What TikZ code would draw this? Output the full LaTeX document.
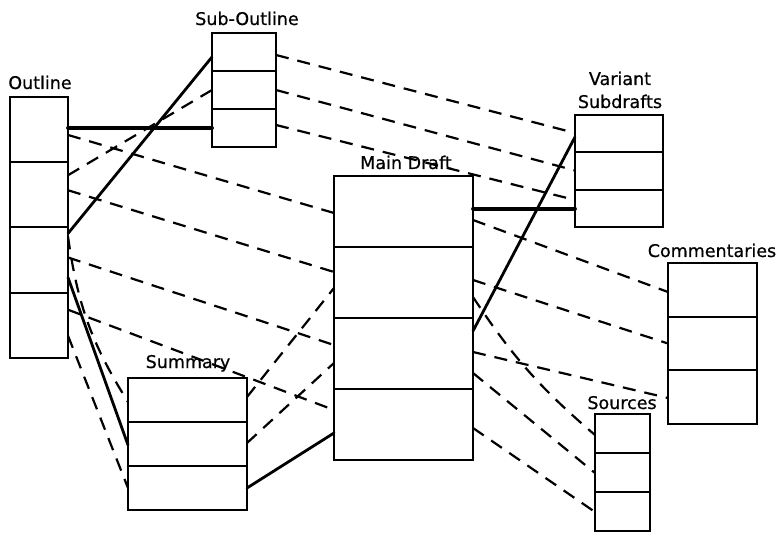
\documentclass[tikz,border=0pt]{standalone}
\usepackage{fontspec}
\newfontfamily\lblfont[FakeBold=0.6]{DejaVu Sans}
\usetikzlibrary{positioning,calc}
\tikzset{
  cell/.style    ={draw=black,line width=2pt,inner sep=0pt,outer sep=0pt},
  outcell/.style ={cell,minimum width=58pt,minimum height=65.25pt},
  subcell/.style ={cell,minimum width=64pt,minimum height=38pt},
  maincell/.style={cell,minimum width=139pt,minimum height=71pt},
  varcell/.style ={cell,minimum width=88pt,minimum height=37.5pt},
  comcell/.style ={cell,minimum width=89pt,minimum height=53.5pt},
  srccell/.style ={cell,minimum width=55pt,minimum height=39pt},
  sumcell/.style ={cell,minimum width=119pt,minimum height=44pt},
  lbl/.style     ={font=\lblfont\fontsize{17.5}{23}\selectfont,inner sep=0pt,
                   anchor=base,align=center},
  tie/.style     ={draw=black,line width=2.8pt,line cap=round},
  heavytie/.style={tie,line width=3.8pt},
  dlink/.style   ={draw=black,line width=2.2pt,dash pattern=on 13pt off 9pt},
}

\begin{document}
\begin{tikzpicture}[x=1pt,y=-1pt]

\path[fill=white,use as bounding box] (0,0) rectangle (778,534);

% Boxes
\node[outcell] (out1) at (39,129.6) {};
\node[outcell] (out2) [below=0pt of out1] {};
\node[outcell] (out3) [below=0pt of out2] {};
\node[outcell] (out4) [below=0pt of out3] {};

\node[subcell] (sub1) at (244,52) {};
\node[subcell] (sub2) [below=0pt of sub1] {};
\node[subcell] (sub3) [below=0pt of sub2] {};

\node[maincell] (main1) at (403.5,211.5) {};
\node[maincell] (main2) [below=0pt of main1] {};
\node[maincell] (main3) [below=0pt of main2] {};
\node[maincell] (main4) [below=0pt of main3] {};

\node[varcell] (var1) at (619,133.75) {};
\node[varcell] (var2) [below=0pt of var1] {};
\node[varcell] (var3) [below=0pt of var2] {};

\node[comcell] (com1) at (712.5,289.75) {};
\node[comcell] (com2) [below=0pt of com1] {};
\node[comcell] (com3) [below=0pt of com2] {};

\node[srccell] (src1) at (622.5,433.5) {};
\node[srccell] (src2) [below=0pt of src1] {};
\node[srccell] (src3) [below=0pt of src2] {};

\node[sumcell] (sum1) at (187.5,400) {};
\node[sumcell] (sum2) [below=0pt of sum1] {};
\node[sumcell] (sum3) [below=0pt of sum2] {};

% Labels
\node[lbl] (outlbl)  at (40,89)   {Outline};
\node[lbl] (sublbl)  at (247,25)  {Sub-Outline};
\node[lbl] (mainlbl) at (406,169) {Main Draft};
\node[lbl] (varlbl)  at (620,108) {Variant\\Subdrafts};
\node[lbl] (comlbl)  at (712,257) {Commentaries};
\node[lbl] (srclbl)  at (622,409) {Sources};
\node[lbl] (sumlbl)  at (188,368) {Summary};

% Solid links
\draw[heavytie] (out1.east |- sub3.west) -- (sub3.west);
\draw[tie] ($(out3.north east)+(0,6)$) -- ($(sub1.north west)+(0,24)$);
\draw[tie] ($(out3.north east)+(0,50)$) -- ($(sum2.north west)+(0,23)$);
\draw[tie] ($(sum3.north east)+(0,22)$) -- ($(main4.north west)+(0,44)$);
\draw[heavytie] (main1.east |- var3.west) -- (var3.west);
\draw[tie] ($(main3.north east)+(0,13)$) -- ($(var1.north west)+(0,22)$);

% Dashed links, Sub-Outline to Variant Subdrafts
\draw[dlink] ($(sub1.north east)+(0,22)$) -- ($(var1.north west)+(0,18)$);
\draw[dlink] ($(sub2.north east)+(0,19)$) -- ($(var2.north west)+(0,18)$);
\draw[dlink] ($(sub3.north east)+(0,16)$) -- ($(var3.north west)+(0,10)$);

% Dashed links out of the Outline
\draw[dlink] ($(out1.north east)+(0,38)$) -- ($(main1.north west)+(0,37)$);
\draw[dlink] ($(out2.north east)+(0,13)$) -- ($(sub2.north west)+(0,19)$);
\draw[dlink] ($(out2.north east)+(0,28)$) -- ($(main2.north west)+(0,25)$);
\draw[dlink] ($(out3.north east)+(0,30)$) -- ($(main3.north west)+(0,27)$);
\draw[dlink] ($(out4.north east)+(0,17)$) -- ($(main4.north west)+(0,21)$);
\draw[dlink] ($(out3.north east)+(0,9)$) to[bend right=12] ($(sum1.north west)+(0,24)$);
\draw[dlink] ($(out4.north east)+(0,43)$) -- ($(sum3.north west)+(0,22)$);

% Dashed links, Summary to Main Draft
\draw[dlink] ($(sum1.north east)+(0,19)$) -- ($(main2.north west)+(0,41)$);
\draw[dlink] ($(sum2.north east)+(0,21)$) -- ($(main3.north west)+(0,45)$);

% Dashed links out of the Main Draft
\draw[dlink] ($(main1.north east)+(0,44)$) -- ($(com1.north west)+(0,29)$);
\draw[dlink] ($(main2.north east)+(0,33)$) -- ($(com2.north west)+(0,27)$);
\draw[dlink] ($(main3.north east)+(0,34)$) -- ($(com3.north west)+(0,28)$);
\draw[dlink] ($(main2.north east)+(0,50)$) to[bend right=8] ($(src1.north west)+(0,21)$);
\draw[dlink] ($(main3.north east)+(0,55)$) -- ($(src2.north west)+(0,20)$);
\draw[dlink] ($(main4.north east)+(0,39)$) -- ($(src3.north west)+(0,20)$);

\end{tikzpicture}
\end{document}
